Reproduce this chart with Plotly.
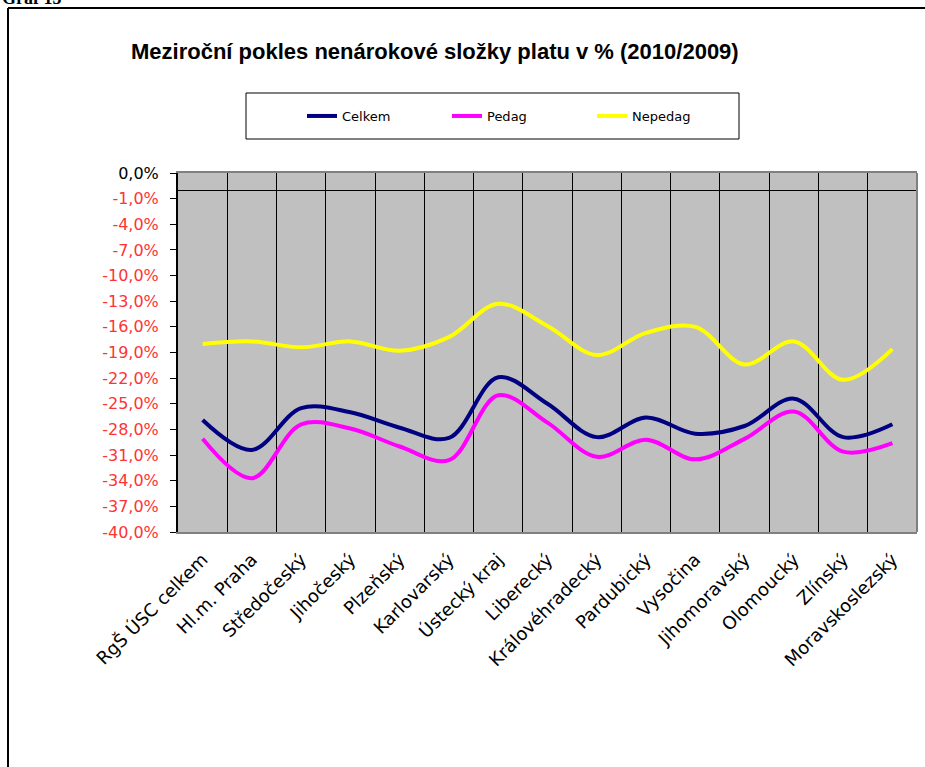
import plotly.graph_objects as go

categories = ["RgŠ ÚSC celkem", "Hl.m. Praha", "Středočeský", "Jihočeský", "Plzeňský",
              "Karlovarský", "Ústecký kraj", "Liberecký", "Královéhradecký", "Pardubický",
              "Vysočina", "Jihomoravský", "Olomoucký", "Zlínský", "Moravskoslezský"]
celkem = [-26.9, -30.4, -25.5, -26.0, -27.8, -29.0, -21.9, -25.0, -28.9, -26.6, -28.5, -27.6, -24.4, -28.9, -27.4]
pedag = [-29.1, -33.7, -27.4, -27.9, -30.0, -31.6, -24.0, -27.2, -31.2, -29.2, -31.5, -29.1, -25.9, -30.6, -29.6]
nepedag = [-18.0, -17.7, -18.4, -17.7, -18.8, -17.2, -13.3, -15.9, -19.3, -16.7, -16.0, -20.4, -17.7, -22.2, -18.6]
tick_values = [-40, -37, -34, -31, -28, -25, -22, -19, -16, -13, -10, -7, -4, -1, 2]
tick_labels = ["-40,0%", "-37,0%", "-34,0%", "-31,0%", "-28,0%", "-25,0%", "-22,0%", "-19,0%",
               "-16,0%", "-13,0%", "-10,0%", "-7,0%", "-4,0%", "-1,0%",
               "<span style='color:black'>0,0%</span>"]

W, H = 925, 767
L, R, T, B = 178, 917, 173, 532
pw, ph = R - L, B - T

def px(x):
    return (x - L) / pw

def py(y):
    return (B - y) / ph

fig = go.Figure()
for name, vals, col in [("Celkem", celkem, "#000080"), ("Pedag", pedag, "#FF00FF"),
                        ("Nepedag", nepedag, "#FFFF00")]:
    fig.add_trace(go.Scatter(x=categories, y=vals, name=name, mode="lines",
                             line=dict(color=col, width=4, shape="spline", smoothing=1.0)))

shapes = [
    dict(type="line", xref="paper", yref="paper", x0=1, x1=1, y0=0, y1=1,
         line=dict(color="#808080", width=2)),
    dict(type="rect", xref="paper", yref="paper", x0=px(246), x1=px(739), y0=py(93), y1=py(139),
         line=dict(color="black", width=1), fillcolor="white", layer="below"),
    dict(type="line", xref="paper", yref="paper", x0=px(8), x1=px(930), y0=py(8), y1=py(8),
         line=dict(color="black", width=2)),
    dict(type="line", xref="paper", yref="paper", x0=px(8), x1=px(8), y0=py(8), y1=py(770),
         line=dict(color="black", width=2)),
]

fig.update_layout(
    width=W, height=H,
    margin=dict(l=L, r=W - R, t=T, b=H - B, autoexpand=False),
    paper_bgcolor="white", plot_bgcolor="#C0C0C0",
    font=dict(family="DejaVu Sans", color="black"),
    title=dict(text="<b>Meziroční pokles nenárokové složky platu v % (2010/2009)</b>",
               x=131 / W, xanchor="left", xref="container", y=1 - 51 / H, yanchor="middle",
               font=dict(family="Liberation Sans, Arial", size=22, color="black")),
    showlegend=True,
    legend=dict(orientation="h", x=px(302), xanchor="left", y=py(116), yanchor="middle",
                bgcolor="rgba(0,0,0,0)", borderwidth=0, font=dict(size=13),
                entrywidth=100, entrywidthmode="pixels", itemwidth=30),
    shapes=shapes,
    annotations=[dict(text="<b>Graf 15</b>", xref="paper", yref="paper", x=px(0), y=py(10),
                      xanchor="left", yanchor="bottom", showarrow=False,
                      font=dict(family="Liberation Serif", size=18, color="black"))],
    xaxis=dict(type="category", tickson="boundaries", showgrid=True, gridcolor="black",
               gridwidth=1, ticks="", tickangle=-45, tickfont=dict(size=18, color="black"),
               showline=True, linecolor="#808080", linewidth=2, mirror=True,
               range=[-0.5, 14.5], ticklabelstandoff=8),
    yaxis=dict(range=[-40, 2], tickvals=tick_values, ticktext=tick_labels,
               tickfont=dict(size=16, color="#FF3333"), ticks="outside", ticklen=6,
               tickcolor="black", showgrid=False, showline=True, linecolor="black",
               linewidth=2, zeroline=True, zerolinecolor="black", zerolinewidth=1,
               ticklabelstandoff=8),
)

fig.write_html("out.html", config={"displayModeBar": False},
               post_script="document.body.style.margin='0px';")
